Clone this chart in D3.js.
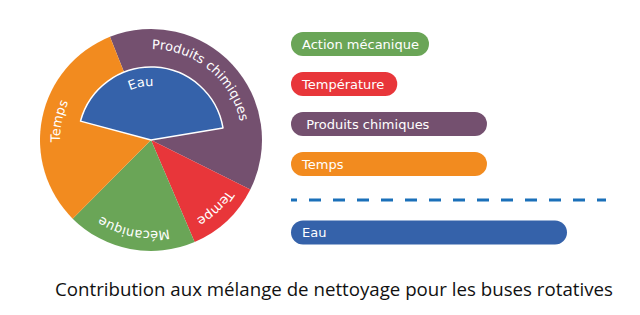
<!DOCTYPE html>
<html>
<head>
<meta charset="utf-8">
<script src="https://cdn.jsdelivr.net/npm/d3@7"></script>
<style>
  body { margin: 0; background: #fff; }
  svg { display: block; }
  .lbl { white-space: pre; }
</style>
</head>
<body>
<div id="vis"></div>
<script>
const FRAME_WIDTH = 640;
const FRAME_HEIGHT = 315;

// pie data (share of the full turn, in %)
const pieCategories = ["Produits chimiques", "Température", "Mécanique", "Temps"];
const pieValues = [38.4, 11.2, 18.9, 31.5];
const pieLabels = ["Produits chimiques", "Tempe", "Mécanique", "Temps"];
const eauCategory = "Eau";
const eauValue = 43.2;

// bar data
const barCategories = ["Action mécanique", "Température", "Produits chimiques", "Temps"];
const barLabels = ["Action mécanique", "Température", " Produits chimiques", "Temps"];
const barValues = [5.0, 3.85, 7.1, 7.1];
const eauBarValue = 10;

const TITLE = "Contribution aux mélange de nettoyage pour les buses rotatives";

const COLORS = {
  "Produits chimiques": "#74506f",
  "Température": "#e8363a",
  "Mécanique": "#6aa557",
  "Action mécanique": "#6aa557",
  "Temps": "#f28b1f",
  "Eau": "#3562aa"
};

const PIE = {cx: 151, cy: 140, r: 111, rEau: 73, textR: 91, eauTextR: 54};
const DEG = Math.PI / 180;
const PIE_START = -21.7 * DEG;
const EAU_START = -75 * DEG;
// small angular nudges for curved labels (degrees)
const LABEL_NUDGE = {"Produits chimiques": -8, "Eau": -13};

const svg = d3.select("#vis")
  .append("svg")
    .attr("width", FRAME_WIDTH)
    .attr("height", FRAME_HEIGHT);

const pieG = svg.append("g")
  .attr("transform", "translate(" + PIE.cx + "," + PIE.cy + ")");

const pie = d3.pie()
  .sort(null)
  .value(d => d)
  .startAngle(PIE_START)
  .endAngle(PIE_START + 2 * Math.PI);

const arcs = pie(pieValues);

const arc = d3.arc().innerRadius(0).outerRadius(PIE.r);

pieG.selectAll(".slice")
  .data(arcs)
  .enter()
  .append("path")
    .attr("class", "slice")
    .attr("d", arc)
    .attr("fill", (d, i) => COLORS[pieCategories[i]]);

// Eau : smaller wedge drawn on top
const pctToAngle = d3.scaleLinear().domain([0, 100]).range([0, 2 * Math.PI]);
const eauArc = {startAngle: EAU_START, endAngle: EAU_START + pctToAngle(eauValue)};

pieG.append("path")
  .attr("d", d3.arc().innerRadius(0).outerRadius(PIE.rEau)(eauArc))
  .attr("fill", COLORS[eauCategory])
  .attr("stroke", "#fff")
  .attr("stroke-width", 1.5)
  .attr("stroke-linejoin", "round");

// curved labels
function arcPath(a0, a1, r) {
  const p = d3.path();
  p.arc(0, 0, r, a0 - Math.PI / 2, a1 - Math.PI / 2, false);
  return p.toString();
}

const labelItems = arcs.map((d, i) => ({
  name: pieCategories[i], text: pieLabels[i],
  a0: d.startAngle, a1: d.endAngle, r: PIE.textR
}));
labelItems.push({name: eauCategory, text: eauCategory,
  a0: eauArc.startAngle, a1: eauArc.endAngle, r: PIE.eauTextR});

const defs = svg.append("defs");
labelItems.forEach((d, i) => {
  const n = (LABEL_NUDGE[d.name] || 0) * DEG;
  defs.append("path")
    .attr("id", "lp" + i)
    .attr("d", arcPath(d.a0 + n, d.a1 + n, d.r));
});

pieG.selectAll(".plabel")
  .data(labelItems)
  .enter()
  .append("text")
    .attr("class", "plabel")
    .attr("font-family", "DejaVu Sans")
    .attr("font-size", 13)
    .attr("fill", "#fff")
  .append("textPath")
    .attr("href", (d, i) => "#lp" + i)
    .attr("startOffset", "50%")
    .attr("text-anchor", "middle")
    .text(d => d.text);

// bars
const BAR_X0 = 291;
const X_SCALE = d3.scaleLinear().domain([0, 10]).range([0, 276]);
const Y_SCALE = d3.scaleBand()
  .domain(barCategories)
  .range([32, 176])
  .paddingInner(0.4)
  .paddingOuter(0);
const BAR_H = Y_SCALE.bandwidth();
const EAU_BAR_Y = 220.5;

const bars = barCategories.map((c, i) => ({name: c, label: barLabels[i], value: barValues[i], y: Y_SCALE(c)}));
bars.push({name: eauCategory, label: eauCategory, value: eauBarValue, y: EAU_BAR_Y});

const barG = svg.append("g");

barG.selectAll(".bar")
  .data(bars)
  .enter()
  .append("rect")
    .attr("class", "bar")
    .attr("x", BAR_X0)
    .attr("y", d => d.y)
    .attr("width", d => X_SCALE(d.value))
    .attr("height", BAR_H)
    .attr("rx", BAR_H / 2)
    .attr("fill", d => COLORS[d.name]);

barG.selectAll(".lbl")
  .data(bars)
  .enter()
  .append("text")
    .attr("class", "lbl")
    .attr("x", BAR_X0 + 11)
    .attr("y", d => d.y + BAR_H / 2)
    .attr("dy", "0.35em")
    .attr("font-family", "DejaVu Sans")
    .attr("font-size", 13)
    .attr("fill", "#fff")
    .text(d => d.label);

// dashed separator
svg.append("line")
  .attr("x1", BAR_X0)
  .attr("x2", 606)
  .attr("y1", 200)
  .attr("y2", 200)
  .attr("stroke", "#1b70b9")
  .attr("stroke-width", 3)
  .attr("stroke-dasharray", "12,12")
  .attr("stroke-dashoffset", 6);

// title
svg.append("text")
  .attr("x", 55)
  .attr("y", 296)
  .attr("font-family", "Open Sans")
  .attr("font-size", 18.7)
  .attr("fill", "#111")
  .text(TITLE);
</script>
</body>
</html>
